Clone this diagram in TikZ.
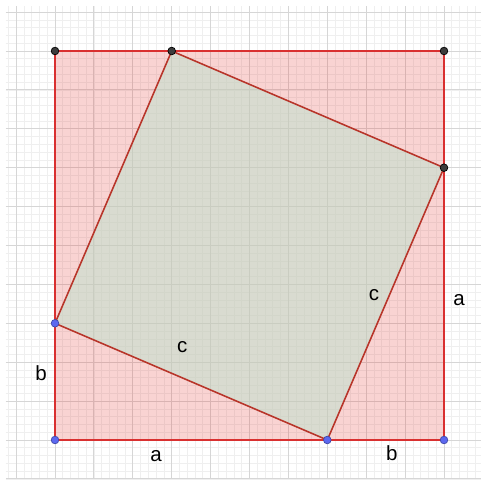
\documentclass[tikz,border=0pt]{standalone}
\usepackage{fontspec}
\setmainfont{Liberation Sans}
\usetikzlibrary{calc}
\definecolor{gridminor}{HTML}{EFEFEF}
\definecolor{gridmajor}{HTML}{D6D6D6}
\definecolor{outerred}{HTML}{E53935}
\definecolor{outerline}{HTML}{D93030}
\definecolor{innerfill}{HTML}{BFE3CF}
\definecolor{innerline}{HTML}{B8352A}
\definecolor{ptdark}{HTML}{3C3C3C}
\definecolor{ptblue}{HTML}{5C68F0}

\begin{document}
\begin{tikzpicture}[
  dot/.style={circle,inner sep=0pt,minimum size=5.6pt,line width=0.5pt},
  lbl/.style={font=\fontsize{15}{17}\selectfont,inner sep=0pt}]
  \useasboundingbox (-1.414,-1.08) rectangle (10.951,11.311);
  \fill[white] (-1.414,-1.08) rectangle (10.951,11.311);

  % Grid
  \draw[gridminor,line width=0.5pt,step=0.2] (-1.26,-1.0) grid (10.951,11.15);
  \draw[gridmajor,line width=0.6pt,step=1] (-1.26,-1.0) grid (10.951,11.15);

  % Corners and points on the sides (a = 7, b = 3)
  \coordinate (BL) at (0,0);
  \coordinate (BR) at (10,0);
  \coordinate (TR) at (10,10);
  \coordinate (TL) at (0,10);
  \coordinate (Pb) at (7,0);
  \coordinate (Pr) at (10,7);
  \coordinate (Pt) at (3,10);
  \coordinate (Pl) at (0,3);

  % Outer square
  \fill[outerred,fill opacity=0.22] (BL) -- (BR) -- (TR) -- (TL) -- cycle;
  % Inner square
  \fill[innerfill,fill opacity=0.55] (Pl) -- (Pb) -- (Pr) -- (Pt) -- cycle;
  \draw[outerline,line width=1.5pt] (BL) -- (BR) -- (TR) -- (TL) -- cycle;
  \draw[innerline,line width=1.15pt] (Pl) -- (Pb) -- (Pr) -- (Pt) -- cycle;

  % Points
  \node[dot,fill=ptdark,draw=black] (tl) at (TL) {};
  \node[dot,fill=ptdark,draw=black] (tr) at (TR) {};
  \node[dot,fill=ptdark,draw=black] (pt) at (Pt) {};
  \node[dot,fill=ptdark,draw=black] (pr) at (Pr) {};
  \node[dot,fill=ptblue,draw=ptblue!70!black] (pl) at (Pl) {};
  \node[dot,fill=ptblue,draw=ptblue!70!black] (bl) at (BL) {};
  \node[dot,fill=ptblue,draw=ptblue!70!black] (pb) at (Pb) {};
  \node[dot,fill=ptblue,draw=ptblue!70!black] (br) at (BR) {};

  % Labels
  \node[lbl] (la1) at (2.60,-0.41) {a};
  \node[lbl] (lb1) at (-0.36,1.72) {b};
  \node[lbl] (lc1) at (3.27,2.39) {c};
  \node[lbl] (lc2) at (8.20,3.73) {c};
  \node[lbl] (la2) at (10.39,3.60) {a};
  \node[lbl] (lb2) at (8.66,-0.33) {b};
\end{tikzpicture}
\end{document}
